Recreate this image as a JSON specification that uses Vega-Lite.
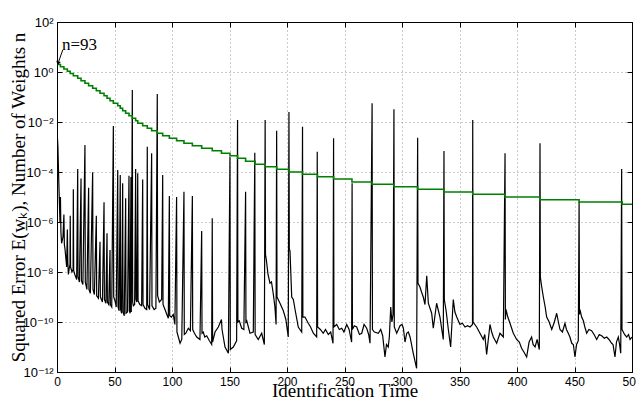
{
  "$schema": "https://vega.github.io/schema/vega-lite/v6.json",
  "width": 575,
  "height": 350,
  "autosize": "none",
  "padding": {"left": 57, "top": 22, "right": 4, "bottom": 26},
  "background": "white",
  "config": {
    "view": {"stroke": "black", "strokeWidth": 1},
    "axis": {
      "labelFont": "Liberation Sans",
      "labelFontSize": 12,
      "labelColor": "black",
      "titleFont": "Liberation Serif",
      "titleFontSize": 19,
      "titleFontWeight": "normal",
      "titleColor": "black",
      "domainColor": "black",
      "tickColor": "black",
      "gridColor": "#999999",
      "gridDash": [1, 3],
      "gridWidth": 1,
      "gridOpacity": 1
    }
  },
  "datasets": {
    "err": [
      {"x":0,"e":5.01e-3},{"x":0.8,"e":1e-3},{"x":1.5,"e":5.01e-5},{"x":2.2,"e":3.98e-6},{"x":2.6,"e":1e-6},
      {"x":3.0,"e":1e-5},{"x":3.4,"e":3.98e-7},{"x":4.0,"e":1.41e-7},{"x":5.2,"e":2.51e-7},{"x":6.0,"e":2.0e-6},
      {"x":6.4,"e":1.26e-7},{"x":7.0,"e":7.94e-8},{"x":8.4,"e":1.58e-8},{"x":9.0,"e":5.01e-7},{"x":9.4,"e":2.51e-8},
      {"x":9.9,"e":7.94e-9},{"x":10.5,"e":1.26e-8},{"x":11.3,"e":2.0e-8},{"x":11.5,"e":1.78e-6},{"x":11.8,"e":1.58e-8},
      {"x":13.0,"e":1e-8},{"x":14.0,"e":1.26e-8},{"x":14.2,"e":2.04e-5},{"x":14.5,"e":1.12e-8},{"x":15.5,"e":7.94e-9},
      {"x":17.1,"e":5.01e-9},{"x":18.0,"e":1.32e-4},{"x":18.3,"e":6.31e-9},{"x":19.5,"e":3.98e-9},{"x":20.9,"e":5.5e-5},
      {"x":21.2,"e":4.47e-9},{"x":22.5,"e":3.16e-9},{"x":24.3,"e":1.2e-3},{"x":24.6,"e":3.98e-9},{"x":26.0,"e":2.0e-9},
      {"x":27.5,"e":2.34e-5},{"x":27.8,"e":2.0e-9},{"x":29.0,"e":1.41e-9},{"x":31.0,"e":9.77e-5},{"x":31.3,"e":2.0e-9},
      {"x":32.5,"e":1.26e-9},{"x":34.2,"e":1.78e-6},{"x":34.5,"e":1.12e-9},{"x":36.0,"e":8.91e-10},{"x":37.4,"e":1.62e-7},
      {"x":37.7,"e":1e-9},{"x":39.5,"e":6.31e-10},{"x":40.9,"e":6.17e-6},{"x":41.2,"e":7.94e-10},{"x":42.5,"e":5.62e-10},
      {"x":43.5,"e":3.55e-7},{"x":43.8,"e":6.31e-10},{"x":45.0,"e":5.01e-10},{"x":46.1,"e":7.59e-8},{"x":46.4,"e":5.01e-10},
      {"x":47.6,"e":3.98e-10},{"x":49.0,"e":6.92e-3},{"x":49.3,"e":1e-9},{"x":50.4,"e":7.08e-10},{"x":51.5,"e":3.98e-10},
      {"x":52.8,"e":1.2e-4},{"x":53.1,"e":3.98e-10},{"x":54.0,"e":2.82e-10},{"x":55.0,"e":7.59e-5},{"x":55.3,"e":3.16e-10},
      {"x":56.2,"e":2.24e-10},{"x":57.1,"e":3.55e-5},{"x":57.4,"e":2.51e-10},{"x":58.5,"e":1.78e-10},{"x":59.7,"e":8.91e-6},
      {"x":60.0,"e":2.24e-10},{"x":61.3,"e":2.51e-10},{"x":62.6,"e":7.08e-5},{"x":62.9,"e":2.82e-10},{"x":63.6,"e":2.24e-10},
      {"x":64.3,"e":6.31e-5},{"x":64.6,"e":2.51e-10},{"x":65.5,"e":0.1905},{"x":65.8,"e":6.31e-10},{"x":66.4,"e":4.47e-10},
      {"x":67.5,"e":5.01e-10},{"x":68.4,"e":1.32e-4},{"x":68.7,"e":7.94e-10},{"x":69.4,"e":6.31e-10},{"x":70.2,"e":8.91e-5},
      {"x":70.5,"e":7.08e-10},{"x":72.0,"e":5.01e-10},{"x":73.6,"e":4.47e-10},{"x":74.5,"e":5.01e-5},{"x":74.8,"e":5.01e-10},
      {"x":76.5,"e":3.55e-10},{"x":78.0,"e":3.16e-10},{"x":78.5,"e":1.02e-3},{"x":78.8,"e":5.01e-10},{"x":80.5,"e":3.16e-10},
      {"x":82.3,"e":5.62e-4},{"x":82.6,"e":4.47e-10},{"x":84.5,"e":3.16e-10},{"x":86.0,"e":3.55e-10},{"x":87.2,"e":0.132},
      {"x":87.5,"e":1.12e-9},{"x":89.0,"e":6.31e-10},{"x":91.0,"e":7.94e-10},{"x":91.9,"e":7.59e-5},{"x":92.2,"e":5.01e-10},
      {"x":93.9,"e":3.16e-10},{"x":95.5,"e":2.0e-10},{"x":96.8,"e":1.41e-10},{"x":97.7,"e":1.1e-5},{"x":98.0,"e":1.78e-10},
      {"x":99.5,"e":1.58e-10},{"x":101.1,"e":2.0e-10},{"x":102.5,"e":7.94e-11},{"x":104.0,"e":1e-5},{"x":104.3,"e":3.98e-11},
      {"x":105.5,"e":2.51e-11},{"x":107.0,"e":1.41e-11},{"x":108.5,"e":2.0e-11},{"x":110.4,"e":1.62e-5},{"x":110.7,"e":3.16e-11},
      {"x":112.0,"e":3.55e-11},{"x":114.2,"e":5.62e-11},{"x":116.0,"e":4.47e-11},{"x":117.7,"e":1.1e-5},{"x":118.0,"e":5.01e-11},
      {"x":119.5,"e":3.55e-11},{"x":121.5,"e":2.51e-11},{"x":124.3,"e":2.0e-11},{"x":125.8,"e":4.37e-7},{"x":126.1,"e":3.55e-11},
      {"x":127.2,"e":3.98e-11},{"x":128.5,"e":2.51e-11},{"x":130.2,"e":2.82e-11},{"x":132.5,"e":1.78e-11},{"x":134.5,"e":1.26e-11},
      {"x":135.0,"e":1.41e-6},{"x":135.3,"e":1.58e-11},{"x":137.4,"e":3.98e-11},{"x":140.3,"e":6.31e-11},{"x":143.0,"e":1.26e-10},
      {"x":143.5,"e":5.01e-11},{"x":146.1,"e":1e-11},{"x":149.0,"e":5.62e-12},{"x":150.4,"e":4.07e-4},{"x":150.7,"e":7.94e-12},
      {"x":153.3,"e":1e-11},{"x":156.2,"e":1.78e-11},{"x":157.0,"e":1.2e-2},{"x":157.3,"e":1e-10},{"x":158.5,"e":1.12e-10},
      {"x":160.6,"e":5.62e-11},{"x":162.5,"e":5.01e-11},{"x":164.0,"e":1.62e-5},{"x":164.3,"e":1e-10},{"x":165.0,"e":1.12e-10},
      {"x":167.8,"e":3.55e-11},{"x":170.7,"e":3.98e-11},{"x":172.0,"e":5.89e-4},{"x":172.3,"e":3.16e-11},{"x":175.0,"e":2.0e-11},
      {"x":178.0,"e":3.55e-11},{"x":180.3,"e":1.26e-11},{"x":181.0,"e":1.2e-2},{"x":181.3,"e":5.01e-8},{"x":182.0,"e":3.16e-8},
      {"x":183.5,"e":7.94e-9},{"x":185.2,"e":3.55e-9},{"x":186.5,"e":3.98e-9},{"x":188.0,"e":1.41e-9},{"x":189.5,"e":3.98e-10},
      {"x":190.5,"e":7.94e-11},{"x":191.0,"e":4.47e-3},{"x":191.3,"e":1e-9},{"x":193.9,"e":5.62e-10},{"x":196.8,"e":2.82e-10},
      {"x":199.0,"e":1.26e-10},{"x":201.1,"e":2.51e-11},{"x":201.7,"e":2.51e-2},{"x":202.0,"e":7.94e-8},{"x":202.6,"e":7.08e-8},
      {"x":204.1,"e":1e-9},{"x":205.5,"e":7.94e-10},{"x":207.0,"e":3.16e-10},{"x":209.8,"e":6.31e-11},{"x":212.8,"e":3.98e-11},
      {"x":213.5,"e":6.46e-3},{"x":213.8,"e":1.58e-10},{"x":215.6,"e":1.58e-10},{"x":218.5,"e":8.91e-11},{"x":220.5,"e":6.31e-11},
      {"x":222.9,"e":3.55e-11},{"x":225.8,"e":2.51e-11},{"x":226.3,"e":6.46e-4},{"x":226.6,"e":6.31e-11},{"x":229.0,"e":5.01e-11},
      {"x":231.5,"e":3.55e-11},{"x":233.5,"e":5.01e-11},{"x":235.9,"e":3.16e-11},{"x":238.0,"e":3.98e-11},{"x":240.0,"e":1.41e-11},
      {"x":240.5,"e":2.24e-3},{"x":240.8,"e":6.31e-11},{"x":243.2,"e":7.94e-11},{"x":245.5,"e":5.01e-11},{"x":247.6,"e":5.62e-11},
      {"x":249.5,"e":3.98e-11},{"x":251.9,"e":7.94e-11},{"x":254.0,"e":5.01e-11},{"x":256.2,"e":1.58e-11},{"x":256.6,"e":3.55e-5},
      {"x":256.9,"e":5.01e-11},{"x":258.5,"e":7.08e-11},{"x":260.6,"e":6.31e-11},{"x":263.0,"e":3.16e-11},{"x":265.0,"e":3.55e-11},
      {"x":267.0,"e":7.94e-11},{"x":269.3,"e":5.62e-11},{"x":271.0,"e":3.16e-11},{"x":272.2,"e":1.41e-11},{"x":274.0,"e":5.62e-2},
      {"x":274.3,"e":5.01e-11},{"x":276.0,"e":3.98e-11},{"x":279.4,"e":3.55e-11},{"x":281.5,"e":5.01e-11},{"x":283.2,"e":2.82e-11},
      {"x":285.2,"e":3.98e-12},{"x":286.5,"e":1.26e-11},{"x":288.0,"e":1e-11},{"x":289.0,"e":2.51e-11},{"x":290.2,"e":3.98e-10},
      {"x":291.2,"e":1e-10},{"x":292.2,"e":2.0e-10},{"x":293.0,"e":3.24e-2},{"x":293.3,"e":6.31e-11},{"x":295.4,"e":3.55e-11},
      {"x":298.3,"e":7.08e-11},{"x":300.0,"e":7.94e-11},{"x":301.2,"e":5.62e-11},{"x":302.6,"e":1.58e-11},{"x":304.1,"e":3.55e-11},
      {"x":305.5,"e":3.98e-11},{"x":307.0,"e":2.51e-11},{"x":309.8,"e":5.62e-12},{"x":312.7,"e":1.41e-12},{"x":313.6,"e":2.34e-3},
      {"x":313.9,"e":3.55e-9},{"x":315.6,"e":2.51e-9},{"x":317.0,"e":1.58e-9},{"x":318.5,"e":1e-9},{"x":320.0,"e":5.01e-10},
      {"x":321.5,"e":7.08e-9},{"x":322.9,"e":5.62e-10},{"x":325.8,"e":2.24e-10},{"x":327.2,"e":5.62e-11},{"x":328.5,"e":1.58e-10},
      {"x":330.1,"e":5.62e-10},{"x":333.0,"e":1.58e-10},{"x":335.9,"e":2.0e-11},{"x":336.5,"e":6.92e-4},{"x":336.8,"e":7.94e-10},
      {"x":338.5,"e":2.51e-10},{"x":340.3,"e":5.01e-11},{"x":342.3,"e":1e-11},{"x":343.5,"e":1e-10},{"x":344.6,"e":7.94e-10},
      {"x":346.0,"e":2.51e-10},{"x":347.6,"e":1.58e-10},{"x":350.4,"e":7.94e-11},{"x":352.5,"e":8.91e-11},{"x":354.8,"e":6.31e-11},
      {"x":357.0,"e":7.08e-11},{"x":359.1,"e":6.31e-11},{"x":361.3,"e":7.94e-11},{"x":361.5,"e":1.2e-2},{"x":361.8,"e":1e-10},
      {"x":364.9,"e":6.31e-11},{"x":367.8,"e":3.55e-11},{"x":370.7,"e":2.0e-11},{"x":372.0,"e":3.16e-11},{"x":373.6,"e":5.01e-12},
      {"x":376.5,"e":7.94e-11},{"x":378.0,"e":3.98e-11},{"x":379.4,"e":2.51e-11},{"x":382.3,"e":1.41e-11},{"x":385.2,"e":3.55e-11},
      {"x":388.1,"e":2.51e-11},{"x":389.6,"e":5.62e-4},{"x":389.9,"e":1.26e-10},{"x":390.4,"e":3.16e-10},{"x":392.0,"e":1.58e-10},
      {"x":393.9,"e":8.91e-11},{"x":396.8,"e":3.55e-11},{"x":399.7,"e":2.0e-11},{"x":402.0,"e":1.58e-11},{"x":404.0,"e":8.91e-12},
      {"x":406.0,"e":6.31e-12},{"x":408.4,"e":3.98e-12},{"x":410.5,"e":1.58e-11},{"x":412.7,"e":2.51e-11},{"x":414.0,"e":1.26e-11},
      {"x":415.7,"e":1e-11},{"x":417.5,"e":2.0e-11},{"x":419.4,"e":7.94e-12},{"x":420.0,"e":1.41e-3},{"x":420.3,"e":6.31e-9},
      {"x":421.5,"e":2.51e-9},{"x":422.9,"e":1e-9},{"x":424.5,"e":3.98e-10},{"x":425.8,"e":1.58e-10},{"x":428.0,"e":1e-10},
      {"x":430.2,"e":5.01e-11},{"x":432.5,"e":1e-10},{"x":434.5,"e":2.24e-10},{"x":436.0,"e":1e-10},{"x":437.4,"e":5.01e-11},
      {"x":439.5,"e":3.98e-11},{"x":441.7,"e":8.91e-11},{"x":443.0,"e":5.01e-11},{"x":444.6,"e":3.55e-11},{"x":446.0,"e":2.51e-11},
      {"x":447.6,"e":1.41e-11},{"x":449.0,"e":1.26e-11},{"x":450.4,"e":3.98e-12},{"x":451.8,"e":1.26e-11},{"x":453.3,"e":1.78e-11},
      {"x":454.0,"e":6.46e-6},{"x":454.3,"e":2.0e-10},{"x":454.8,"e":3.16e-10},{"x":456.2,"e":1.58e-10},{"x":457.7,"e":1.12e-10},
      {"x":459.0,"e":6.31e-11},{"x":460.6,"e":3.55e-11},{"x":462.5,"e":5.01e-11},{"x":464.9,"e":4.47e-11},{"x":467.0,"e":3.16e-11},
      {"x":469.3,"e":2.0e-11},{"x":471.5,"e":3.16e-11},{"x":473.6,"e":2.82e-11},{"x":476.0,"e":2.24e-11},{"x":478.0,"e":2.51e-11},
      {"x":480.0,"e":2.0e-11},{"x":482.3,"e":1.41e-11},{"x":483.5,"e":1.26e-11},{"x":485.2,"e":3.98e-12},{"x":486.5,"e":1.58e-11},
      {"x":488.1,"e":2.51e-11},{"x":489.2,"e":1.26e-11},{"x":490.2,"e":5.62e-12},{"x":491.0,"e":1.32e-4},{"x":491.3,"e":5.01e-11},
      {"x":491.9,"e":4.47e-11},{"x":493.5,"e":3.16e-11},{"x":495.4,"e":2.51e-11},{"x":497.0,"e":3.16e-11},{"x":498.3,"e":2.0e-11},
      {"x":500.0,"e":2.51e-11}
    ],
    "wts": [
      {"x":0,"n":2.0},{"x":3,"n":1.62},{"x":6,"n":1.32},{"x":9,"n":1.07},{"x":11.5,"n":0.871},
      {"x":14.2,"n":0.708},{"x":18,"n":0.562},{"x":20.9,"n":0.447},{"x":24.3,"n":0.355},{"x":27.5,"n":0.282},
      {"x":31,"n":0.224},{"x":34.2,"n":0.178},{"x":37.4,"n":0.141},{"x":40.9,"n":0.112},{"x":43.5,"n":0.0891},
      {"x":46.1,"n":0.0708},{"x":49,"n":0.0562},{"x":52.8,"n":0.0447},{"x":55,"n":0.0355},{"x":57.1,"n":0.0282},
      {"x":59.7,"n":0.0224},{"x":62.6,"n":0.0178},{"x":65.5,"n":0.0141},{"x":68.4,"n":0.0112},{"x":70.2,"n":0.00891},
      {"x":74.5,"n":0.00708},{"x":78.5,"n":0.00562},{"x":82.3,"n":0.00447},{"x":87.2,"n":0.00355},{"x":91.9,"n":0.00282},
      {"x":97.7,"n":0.00224},{"x":104,"n":0.00178},{"x":110.4,"n":0.00141},{"x":117.7,"n":0.00112},{"x":125.8,"n":8.91e-4},
      {"x":135,"n":7.08e-4},{"x":143,"n":5.62e-4},{"x":150.4,"n":4.47e-4},{"x":157,"n":3.55e-4},{"x":164,"n":2.69e-4},
      {"x":172.2,"n":2.04e-4},{"x":181,"n":1.62e-4},{"x":191,"n":1.29e-4},{"x":201.7,"n":1.0e-4},{"x":213.5,"n":8.13e-5},
      {"x":226.5,"n":6.46e-5},{"x":240.5,"n":5.25e-5},{"x":256.5,"n":3.98e-5},{"x":274,"n":3.24e-5},{"x":293,"n":2.57e-5},
      {"x":313.6,"n":2.04e-5},{"x":336.5,"n":1.58e-5},{"x":361.5,"n":1.29e-5},{"x":389.6,"n":1.0e-5},{"x":420,"n":7.76e-6},
      {"x":454,"n":6.31e-6},{"x":491.5,"n":5.13e-6},{"x":500,"n":5.13e-6}
    ],
    "arrow": [{"x": 5.0, "y": 7.6, "x2": 1.4, "y2": 2.6}],
    "tip": [{"x": 1.1, "y": 2.35}],
    "lbl": [{"x": 4.3, "y": 7.4, "t": "n=93"}]
  },
  "layer": [
    {
      "data": {"name": "err"},
      "mark": {"type": "line", "color": "black", "strokeWidth": 1.2, "clip": true},
      "encoding": {
        "x": {
          "field": "x", "type": "quantitative",
          "scale": {"domain": [0, 500], "nice": false, "zero": false},
          "axis": {
            "orient": "bottom",
            "values": [0, 50, 100, 150, 200, 250, 300, 350, 400, 450, 500],
            "grid": true, "tickSize": -5, "labelPadding": 9,
            "labelFlush": false, "labelOverlap": false,
            "title": "Identification Time",
            "titleY": 24, "titleBaseline": "alphabetic"
          }
        },
        "y": {
          "field": "e", "type": "quantitative",
          "scale": {"type": "log", "domain": [1e-12, 100], "nice": false},
          "axis": {
            "orient": "left",
            "values": [1e-12, 1e-10, 1e-8, 1e-6, 1e-4, 1e-2, 1, 100],
            "grid": true, "tickSize": -5, "labelPadding": 9,
            "labelFont": "Liberation Sans, DejaVu Sans",
            "labelFontSize": 13,
            "labelExpr": "datum.value > 50 ? '10²' : datum.value > 0.5 ? '10⁰' : datum.value > 5e-3 ? '10⁻²' : datum.value > 5e-5 ? '10⁻⁴' : datum.value > 5e-7 ? '10⁻⁶' : datum.value > 5e-9 ? '10⁻⁸' : datum.value > 5e-11 ? '10⁻¹⁰' : '10⁻¹²'",
            "labelFlush": false, "labelOverlap": false,
            "title": "Squared Error E(w̲ₖ), Number of Weights n",
            "titleX": -39, "titleBaseline": "middle"
          }
        }
      }
    },
    {
      "data": {"name": "wts"},
      "mark": {"type": "line", "color": "#008000", "strokeWidth": 1.6, "interpolate": "step-after", "clip": true},
      "encoding": {
        "x": {"field": "x", "type": "quantitative",
          "axis": {"orient": "top", "values": [0, 50, 100, 150, 200, 250, 300, 350, 400, 450, 500], "labels": false, "grid": false, "tickSize": -5, "title": null}},
        "y": {"field": "n", "type": "quantitative",
          "axis": {"orient": "right", "values": [1e-12, 1e-10, 1e-8, 1e-6, 1e-4, 1e-2, 1, 100], "labels": false, "grid": false, "tickSize": -5, "title": null}}
      }
    },
    {
      "data": {"name": "arrow"},
      "mark": {"type": "rule", "color": "black", "strokeWidth": 1},
      "encoding": {
        "x": {"field": "x", "type": "quantitative", "axis": null},
        "y": {"field": "y", "type": "quantitative", "axis": null},
        "x2": {"field": "x2"},
        "y2": {"field": "y2"}
      }
    },
    {
      "data": {"name": "tip"},
      "mark": {"type": "point", "shape": "triangle", "filled": true, "color": "black", "size": 22, "angle": 196, "opacity": 1},
      "encoding": {
        "x": {"field": "x", "type": "quantitative", "axis": null},
        "y": {"field": "y", "type": "quantitative", "axis": null}
      }
    },
    {
      "data": {"name": "lbl"},
      "mark": {"type": "text", "font": "Liberation Serif", "fontSize": 17, "align": "left", "baseline": "alphabetic", "color": "black"},
      "encoding": {
        "x": {"field": "x", "type": "quantitative", "axis": null},
        "y": {"field": "y", "type": "quantitative", "axis": null},
        "text": {"field": "t"}
      }
    }
  ],
  "resolve": {"axis": {"x": "independent", "y": "independent"}}
}
